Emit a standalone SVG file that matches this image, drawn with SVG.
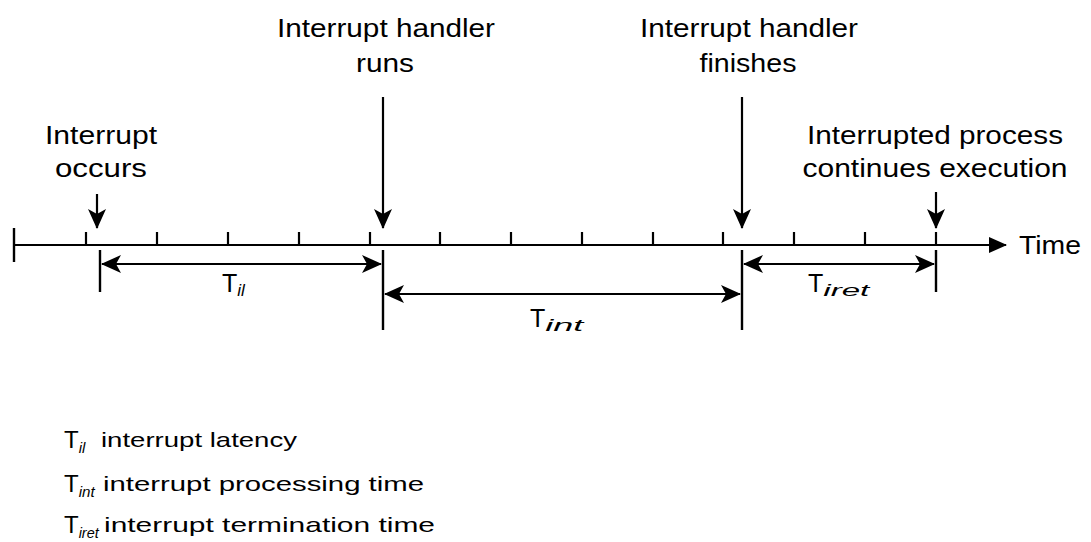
<svg xmlns="http://www.w3.org/2000/svg" width="1091" height="542" viewBox="0 0 1091 542">
<style>
text{font-family:"Liberation Sans",Arial,sans-serif;fill:#000}
.lbl{font-size:25px;text-anchor:middle}
.tl{font-size:25px}
.sub{font-size:17px;font-style:italic}
.lsub{font-size:15px;font-style:italic}
.leg{font-size:21px}
.lt{font-size:24px}
.ln{stroke:#000;stroke-width:2.2;fill:none}
.bar{stroke:#000;stroke-width:2.4}
</style>
<defs>
<marker id="ah" markerUnits="userSpaceOnUse" markerWidth="22" markerHeight="20" refX="19" refY="9" orient="auto-start-reverse">
<path d="M0,0 L20,9 L0,18 L5,9 z" fill="#000"/>
</marker>
<marker id="ax" markerUnits="userSpaceOnUse" markerWidth="20" markerHeight="18" refX="17" refY="8" orient="auto">
<path d="M0,0 L18,8 L0,16 z" fill="#000"/>
</marker>
</defs>
<g id="axis">
<line class="ln" x1="14" y1="245" x2="1006" y2="245" marker-end="url(#ax)"/>
<line class="bar" x1="14" y1="228" x2="14" y2="262"/>
<path class="ln" d="M86,232V245M157,232V245M228,232V245M299,232V245M370,232V245M440,232V245M511,232V245M582,232V245M653,232V245M723,232V245M794,232V245M865,232V245M936,232V245"/>
<text class="tl" x="1019" y="254" textLength="62" lengthAdjust="spacingAndGlyphs">Time</text>
</g>
<g id="event-occurs">
<text class="lbl" x="101" y="144" textLength="112" lengthAdjust="spacingAndGlyphs">Interrupt</text>
<text class="lbl" x="101" y="177" textLength="92" lengthAdjust="spacingAndGlyphs">occurs</text>
</g>
<g id="event-runs">
<text class="lbl" x="386" y="37" textLength="218" lengthAdjust="spacingAndGlyphs">Interrupt handler</text>
<text class="lbl" x="385" y="72" textLength="58" lengthAdjust="spacingAndGlyphs">runs</text>
</g>
<g id="event-finishes">
<text class="lbl" x="749" y="37" textLength="218" lengthAdjust="spacingAndGlyphs">Interrupt handler</text>
<text class="lbl" x="748" y="72" textLength="97" lengthAdjust="spacingAndGlyphs">finishes</text>
</g>
<g id="event-continues">
<text class="lbl" x="935" y="144" textLength="256" lengthAdjust="spacingAndGlyphs">Interrupted process</text>
<text class="lbl" x="935" y="177" textLength="265" lengthAdjust="spacingAndGlyphs">continues execution</text>
</g>
<g id="connectors">
<line class="ln" x1="97" y1="194" x2="97" y2="228" marker-end="url(#ah)"/>
<line class="ln" x1="383" y1="97" x2="383" y2="228" marker-end="url(#ah)"/>
<line class="ln" x1="742" y1="97" x2="742" y2="228" marker-end="url(#ah)"/>
<line class="ln" x1="936" y1="192" x2="936" y2="228" marker-end="url(#ah)"/>
<line class="bar" x1="100" y1="250" x2="100" y2="292"/>
<line class="bar" x1="383" y1="250" x2="383" y2="330"/>
<line class="bar" x1="742" y1="250" x2="742" y2="330"/>
<line class="bar" x1="936" y1="250" x2="936" y2="292"/>
<line class="ln" x1="102" y1="264" x2="381" y2="264" marker-start="url(#ah)" marker-end="url(#ah)"/>
<line class="ln" x1="385" y1="294" x2="740" y2="294" marker-start="url(#ah)" marker-end="url(#ah)"/>
<line class="ln" x1="744" y1="264" x2="934" y2="264" marker-start="url(#ah)" marker-end="url(#ah)"/>
</g>
<g id="dim-labels">
<text class="tl" x="222" y="292">T<tspan class="sub" dy="4">il</tspan></text>
<text class="tl" x="530" y="327">T<tspan class="sub" dy="4" textLength="38" lengthAdjust="spacingAndGlyphs">int</tspan></text>
<text class="tl" x="808" y="292">T<tspan class="sub" dy="4" textLength="46" lengthAdjust="spacingAndGlyphs">iret</tspan></text>
</g>
<g id="legend">
<text class="lt" x="64" y="448">T<tspan class="lsub" dy="5">il</tspan></text>
<text class="leg" x="101" y="447" textLength="196" lengthAdjust="spacingAndGlyphs">interrupt latency</text>
<text class="lt" x="64" y="492">T<tspan class="lsub" dy="5" textLength="16" lengthAdjust="spacingAndGlyphs">int</tspan></text>
<text class="leg" x="103" y="491" textLength="321" lengthAdjust="spacingAndGlyphs">interrupt processing time</text>
<text class="lt" x="64" y="533">T<tspan class="lsub" dy="5" textLength="20" lengthAdjust="spacingAndGlyphs">iret</tspan></text>
<text class="leg" x="104" y="532" textLength="331" lengthAdjust="spacingAndGlyphs">interrupt termination time</text>
</g>
</svg>
